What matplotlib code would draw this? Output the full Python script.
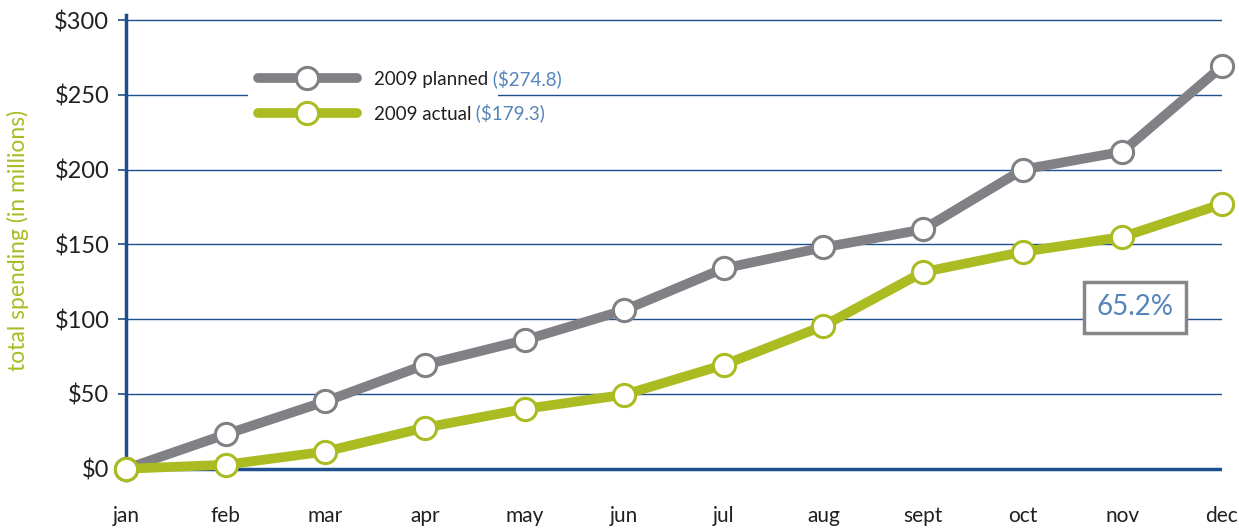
import matplotlib.pyplot as plt

plt.rcParams['font.family'] = ['Lato', 'DejaVu Sans']

months = ['jan', 'feb', 'mar', 'apr', 'may', 'jun', 'jul', 'aug', 'sept', 'oct', 'nov', 'dec']
planned = [0, 23, 45, 69.5, 86, 106, 134, 148, 160, 200, 212, 269]
actual = [0, 2.7, 11.5, 27.5, 40, 49.5, 69.5, 95.5, 131.5, 145, 155, 177]
yticks = [0, 50, 100, 150, 200, 250, 300]
ytick_labels = ['$0', '$50', '$100', '$150', '$200', '$250', '$300']
planned_label = '2009 planned'
actual_label = '2009 actual'
planned_total = '($274.8)'
actual_total = '($179.3)'
pct_text = '65.2%'

gray = '#808085'
green = '#abbb22'
blue = '#1d4f8e'
light_blue = '#5585ba'

fig = plt.figure(figsize=(12.39, 5.29), dpi=100)
ax = fig.add_axes([126 / 1239, 49 / 529, 1096 / 1239, 465.2 / 529])

x = list(range(len(months)))

for t in yticks[1:]:
    ax.axhline(t, color=blue, lw=1.0, zorder=1)
ax.axhline(0, color=blue, lw=2.5, zorder=1)

ax.plot(x, planned, color=gray, lw=7, solid_capstyle='round', solid_joinstyle='round',
        marker='o', ms=16, mfc='white', mec=gray, mew=2.2, clip_on=False, zorder=3,
        label=planned_label)
ax.plot(x, actual, color=green, lw=7, solid_capstyle='round', solid_joinstyle='round',
        marker='o', ms=16, mfc='white', mec=green, mew=2.2, clip_on=False, zorder=4,
        label=actual_label)

ax.set_xlim(0, 11)
ax.set_ylim(-7.5, 303.5)

for s in ['top', 'right', 'bottom']:
    ax.spines[s].set_visible(False)
ax.spines['left'].set_color(blue)
ax.spines['left'].set_linewidth(2.5)

ax.set_yticks(yticks)
ax.set_yticklabels(ytick_labels, fontsize=17, color='#231f20')
ax.tick_params(axis='y', length=6, width=1.2, color=blue, pad=6)
ax.set_xticks(x)
ax.set_xticklabels(months, fontsize=15, color='#231f20')
ax.tick_params(axis='x', length=0, pad=19)

fig.text(18 / 1239, 1 - 240 / 529, 'total spending (in millions)', rotation=90,
         color=green, fontsize=16.5, ha='center', va='center')

leg = ax.legend(loc='upper left', bbox_to_anchor=(0.103, 0.92), fontsize=13.5,
                frameon=True, facecolor='white', edgecolor='none', framealpha=1,
                handlelength=5.3, handletextpad=0.9, labelspacing=0.95,
                borderpad=0.5, fancybox=False)
fig.canvas.draw()
for txt, tot in zip(leg.get_texts(), [planned_total, actual_total]):
    txt.set_color('#231f20')
    ax.annotate(' ' + tot, xy=(1, 0), xycoords=txt, va='bottom', ha='left',
                fontsize=13.5, color=light_blue, zorder=6)
leg.set_zorder(5)

ax.text(10.13, 108, pct_text, fontsize=20, color=light_blue, ha='center', va='center',
        zorder=5, bbox=dict(boxstyle='square,pad=0.45', fc='white', ec='#86868a', lw=2.5))

fig.savefig('out.png', dpi=100)
